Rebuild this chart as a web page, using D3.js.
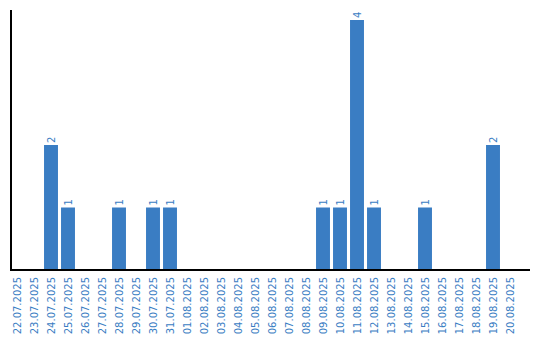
<!DOCTYPE html>
<html>
<head>
<meta charset="utf-8">
<script src="https://cdn.jsdelivr.net/npm/d3@7"></script>
<style>
  body { margin: 0; background: #fff; }
  text { font-family: "DejaVu Sans", Verdana, sans-serif; font-size: 10px; }
</style>
</head>
<body>
<script>
var dates = ['22.07.2025', '23.07.2025', '24.07.2025', '25.07.2025', '26.07.2025',
  '27.07.2025', '28.07.2025', '29.07.2025', '30.07.2025', '31.07.2025',
  '01.08.2025', '02.08.2025', '03.08.2025', '04.08.2025', '05.08.2025',
  '06.08.2025', '07.08.2025', '08.08.2025', '09.08.2025', '10.08.2025',
  '11.08.2025', '12.08.2025', '13.08.2025', '14.08.2025', '15.08.2025',
  '16.08.2025', '17.08.2025', '18.08.2025', '19.08.2025', '20.08.2025'];
var counts = [0, 0, 2, 1, 0, 0, 1, 0, 1, 1,
  0, 0, 0, 0, 0, 0, 0, 0, 1, 1,
  4, 1, 0, 0, 1, 0, 0, 0, 2, 0];

var width = 540;
var height = 340;
var blue = '#3a7dc3';

var svg = d3.select('body').append('svg')
  .attr('width', width)
  .attr('height', height);

var x = d3.scaleBand()
  .domain(dates)
  .range([8.5, 518.5])
  .paddingInner(0.18)
  .paddingOuter(0.09);

var y = d3.scaleLinear()
  .domain([0, 4])
  .range([270, 20]);

// bars
svg.selectAll('rect.bar')
  .data(dates)
  .enter().append('rect')
  .attr('class', 'bar')
  .attr('x', function(d) { return x(d); })
  .attr('y', function(d, i) { return y(counts[i]); })
  .attr('width', x.bandwidth())
  .attr('height', function(d, i) { return y(0) - y(counts[i]); })
  .attr('fill', blue);

// value labels
svg.selectAll('text.val')
  .data(dates.filter(function(d, i) { return counts[i] > 0; }))
  .enter().append('text')
  .attr('class', 'val')
  .attr('transform', function(d) {
    var c = counts[dates.indexOf(d)];
    return 'translate(' + (x(d) + x.bandwidth() / 2 + 3.5) + ',' + (y(c) - 2) + ') rotate(-90)';
  })
  .attr('fill', blue)
  .text(function(d) { return counts[dates.indexOf(d)]; });

// x axis
var xAxis = svg.append('g')
  .attr('transform', 'translate(0,' + y(0) + ')')
  .call(d3.axisBottom(x).tickSize(0).tickPadding(0));
xAxis.select('.domain').remove();
xAxis.selectAll('text')
  .attr('fill', blue)
  .attr('text-anchor', 'end')
  .attr('dy', null)
  .attr('y', 0)
  .attr('transform', 'translate(3.5,7) rotate(-90)');
xAxis.append('line')
  .attr('x1', 10).attr('x2', 530)
  .attr('y1', 0).attr('y2', 0)
  .attr('stroke', '#000').attr('stroke-width', 2);

// y axis line
svg.append('line')
  .attr('x1', 11).attr('x2', 11)
  .attr('y1', 10).attr('y2', 271)
  .attr('stroke', '#000').attr('stroke-width', 2);
</script>
</body>
</html>
